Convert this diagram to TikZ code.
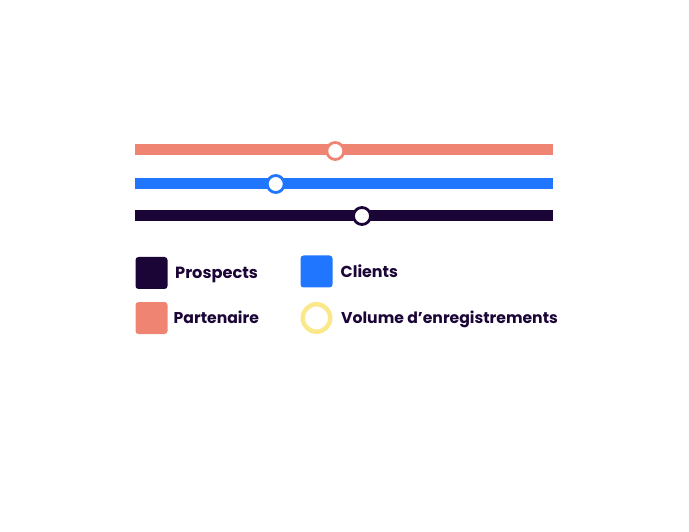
\documentclass[tikz,border=0pt]{standalone}
\usepackage{fontspec}
\setmainfont{Poppins}
\definecolor{navy}{HTML}{1B0536}
\definecolor{salmon}{HTML}{F08472}
\definecolor{azure}{HTML}{2176FF}
\definecolor{pale}{HTML}{FBE88A}
\tikzset{
  bar/.style={minimum height=11pt,minimum width=418pt,inner sep=0pt,outer sep=0pt},
  knob/.style={circle,fill=white,line width=2.8pt,minimum size=17pt,inner sep=0pt},
  swatch/.style={rounded corners=3pt,minimum size=32pt,inner sep=0pt},
  legend/.style={anchor=base west,inner sep=0pt,text=navy,font=\fontsize{15.65}{18}\selectfont\bfseries}
}
\begin{document}
\begin{tikzpicture}[x=1pt,y=-1pt]
\useasboundingbox (0,0) rectangle (689,532);
\node[bar,fill=salmon] (barp) at (344.2,150) {};
\node[bar,fill=azure] (barc) at (344.2,183.2) {};
\node[bar,fill=navy] (barn) at (344.2,216) {};
\node[knob,draw=salmon] (kp) at (335.3,151) {};
\node[knob,draw=azure] (kc) at (275.7,184) {};
\node[knob,draw=navy] (kn) at (362,216) {};
\node[swatch,fill=navy] (s1) at (151.5,273) {};
\node[swatch,fill=azure] (s2) at (316.5,271.5) {};
\node[swatch,fill=salmon] (s3) at (151.5,318) {};
\node[circle,draw=pale,fill=white,line width=4.5pt,minimum size=27.5pt,inner sep=0pt] (s4) at (316.5,318) {};
\node[legend,font=\fontsize{16.2}{18}\selectfont\bfseries] (t1) at (175,278.3) {Prospects};
\node[legend,font=\fontsize{15.9}{18}\selectfont\bfseries] (t2) at (340.5,277.5) {Clients};
\node[legend] (t3) at (173.5,323.5) {Partenaire};
\node[legend] (t4) at (341,323.5) {Volume d’enregistrements};
\end{tikzpicture}
\end{document}
